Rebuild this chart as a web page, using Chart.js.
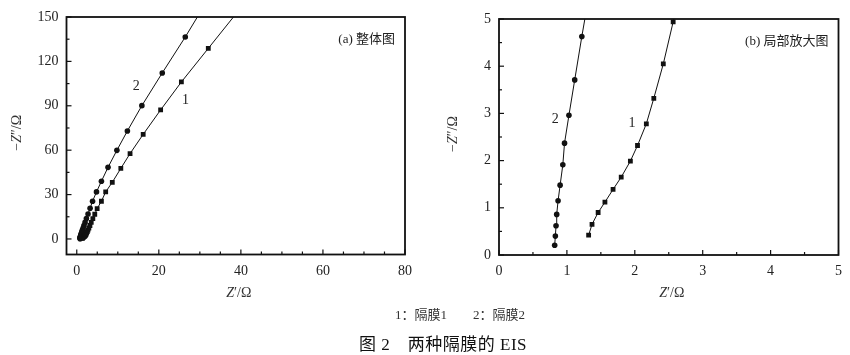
<!DOCTYPE html>
<html>
<head>
<meta charset="utf-8">
<script src="https://cdn.jsdelivr.net/npm/chart.js@4.4.0/dist/chart.umd.min.js"></script>
<style>
body { margin: 0; background: #fff; width: 850px; height: 355px; position: relative; overflow: hidden; }
#left { position: absolute; left: 0; top: 0; }
#right { position: absolute; left: 420px; top: 0; }
.note { position: absolute; font-family: "Liberation Serif", "Noto Sans CJK SC", serif; color: #333; white-space: pre; }
</style>
</head>
<body>
<canvas id="left" width="420" height="305"></canvas>
<canvas id="right" width="430" height="305"></canvas>
<div class="note" style="left:395px;top:304px;font-size:13px;">1：隔膜1　　2：隔膜2</div>
<div class="note" style="left:359px;top:330px;font-size:17px;letter-spacing:0.5px;color:#111;">图 2　两种隔膜的 EIS</div>
<script>
// separator 1 (squares): Z' and -Z''
var sep1Z   = [1.32, 1.37, 1.46, 1.56, 1.68, 1.80, 1.935, 2.04, 2.17, 2.28, 2.42, 2.565, 2.73, 2.95, 3.21, 3.53, 3.92, 4.39, 4.97, 6.01, 7.05, 8.66, 10.74, 12.99, 16.19, 20.44, 25.5, 32.06, 40.5];
var sep1Zpp = [0.42, 0.65, 0.90, 1.12, 1.39, 1.65, 1.99, 2.32, 2.78, 3.32, 4.05, 4.94, 6.0, 7.4, 9.1, 11.2, 13.7, 16.7, 20.5, 25.5, 31.8, 38.3, 47.7, 57.7, 70.7, 87.2, 106.1, 128.8, 158];
// separator 2 (circles)
var sep2Z   = [0.82, 0.83, 0.84, 0.85, 0.87, 0.90, 0.94, 0.965, 1.03, 1.115, 1.22, 1.36, 1.53, 1.75, 2.02, 2.35, 2.75, 3.25, 3.85, 4.81, 6.01, 7.62, 9.78, 12.34, 15.87, 20.84, 26.45, 33.0];
var sep2Zpp = [0.205, 0.40, 0.62, 0.86, 1.15, 1.48, 1.91, 2.37, 2.96, 3.71, 4.63, 5.8, 7.2, 9.0, 11.2, 13.8, 16.9, 20.7, 25.5, 31.8, 39.0, 48.4, 59.9, 73.0, 90.1, 112.2, 136.5, 166.5];

var leftXTicks = [0, 20, 40, 60, 80];
var leftYTicks = [0, 30, 60, 90, 120, 150];
var rightXTicks = [0, 1, 2, 3, 4, 5];
var rightYTicks = [0, 1, 2, 3, 4, 5];

function toPoints(xs, ys) {
	var pts = [];
	for (var i = 0; i < xs.length; i++) pts.push({x: xs[i], y: ys[i]});
	return pts;
}

var serif = '"Liberation Serif", "Noto Sans CJK SC", serif';

function drawTitle(ctx, parts, x, y, rotate) {
	ctx.save();
	ctx.translate(x, y);
	if (rotate) ctx.rotate(-Math.PI / 2);
	var total = 0;
	parts.forEach(function(p) { ctx.font = p[1]; total += ctx.measureText(p[0]).width; });
	var cx = -total / 2;
	ctx.textBaseline = 'middle';
	ctx.textAlign = 'left';
	parts.forEach(function(p) {
		ctx.font = p[1];
		ctx.fillText(p[0], cx, 0);
		cx += ctx.measureText(p[0]).width;
	});
	ctx.restore();
}

var framePlugin = {
	id: 'frame',
	afterDatasetsDraw: function(chart, args, o) {
		var ctx = chart.ctx, a = chart.chartArea, xs = chart.scales.x, ys = chart.scales.y;
		ctx.save();
		ctx.strokeStyle = '#111';
		ctx.lineWidth = 1.2;
		// inward ticks, bottom and left
		for (var i = 0; i * o.xMinor <= xs.max + 1e-9; i++) {
			var v = i * o.xMinor;
			var len = (i % o.xEvery === 0) ? 5 : 3;
			var px = xs.getPixelForValue(v);
			ctx.beginPath(); ctx.moveTo(px, a.bottom); ctx.lineTo(px, a.bottom - len); ctx.stroke();
		}
		for (var j = 0; j * o.yMinor <= ys.max + 1e-9; j++) {
			var w = j * o.yMinor;
			var len2 = (j % o.yEvery === 0) ? 5 : 3;
			var py = ys.getPixelForValue(w);
			ctx.beginPath(); ctx.moveTo(a.left, py); ctx.lineTo(a.left + len2, py); ctx.stroke();
		}
		ctx.lineWidth = 1.8;
		ctx.strokeRect(a.left, a.top, a.right - a.left, a.bottom - a.top);

		ctx.fillStyle = '#222';
		ctx.textBaseline = 'middle';
		// curve labels
		ctx.font = '14px ' + serif;
		ctx.textAlign = 'center';
		o.labels.forEach(function(l) {
			ctx.fillText(l.text, xs.getPixelForValue(l.x), ys.getPixelForValue(l.y));
		});
		// panel name
		ctx.font = '13px ' + serif;
		ctx.textAlign = 'right';
		ctx.fillText(o.panel, a.right - 10, a.top + 23);

		// axis titles
		ctx.fillStyle = '#333';
		var it = 'italic 14px ' + serif, up = '14px ' + serif;
		drawTitle(ctx, [['Z', it], ['\u2032/\u03A9', up]], (a.left + a.right) / 2 + 3, 293, false);
		drawTitle(ctx, [['\u2212', up], ['Z', it], ['\u2033/\u03A9', up]], o.yTitleX, (a.top + a.bottom) / 2 - 3, true);
		ctx.restore();
	}
};

function makeChart(id, cfg) {
	var ctx = document.getElementById(id).getContext('2d');
	return new Chart(ctx, {
		type: 'scatter',
		data: {
			datasets: [
				{
					label: '隔膜1',
					data: toPoints(sep1Z, sep1Zpp),
					showLine: true,
					borderColor: '#111',
					borderWidth: 1,
					backgroundColor: '#111',
					pointStyle: 'rect',
					pointRadius: cfg.rectR,
					pointBorderWidth: 0,
					tension: 0
				},
				{
					label: '隔膜2',
					data: toPoints(sep2Z, sep2Zpp),
					showLine: true,
					borderColor: '#111',
					borderWidth: 1,
					backgroundColor: '#111',
					pointStyle: 'circle',
					pointRadius: cfg.circR,
					pointBorderWidth: 0,
					tension: 0
				}
			]
		},
		options: {
			responsive: false,
			animation: false,
			devicePixelRatio: 1,
			layout: { padding: cfg.padding },
			plugins: {
				legend: { display: false },
				tooltip: { enabled: false },
				frame: cfg.frame
			},
			scales: {
				x: {
					type: 'linear',
					min: cfg.xMin, max: cfg.xMax,
					grid: { display: false, drawTicks: false },
					border: { display: false },
					afterBuildTicks: function(s) { s.ticks = cfg.xTicks.map(function(v) { return {value: v}; }); },
					afterFit: function(s) { s.height = cfg.xHeight; },
					ticks: { padding: 8, color: '#222', font: { family: serif, size: 14 }, maxRotation: 0 }
				},
				y: {
					type: 'linear',
					min: cfg.yMin, max: cfg.yMax,
					grid: { display: false, drawTicks: false },
					border: { display: false },
					afterBuildTicks: function(s) { s.ticks = cfg.yTicks.map(function(v) { return {value: v}; }); },
					afterFit: function(s) { s.width = cfg.yWidth; },
					ticks: { padding: 8, color: '#222', font: { family: serif, size: 14 } }
				}
			}
		},
		plugins: [framePlugin]
	});
}

makeChart('left', {
	xMin: -2.5, xMax: 80, yMin: -10.5, yMax: 150,
	xTicks: leftXTicks, yTicks: leftYTicks,
	padding: { left: 0, top: 17, right: 10.5, bottom: 0 },
	yWidth: 66.5, xHeight: 50.5,
	rectR: 3.4, circR: 2.8,
	frame: {
		xMinor: 5, xEvery: 4, yMinor: 15, yEvery: 2,
		yTitleX: 17,
		panel: '(a) 整体图',
		labels: [{text: '2', x: 14.5, y: 103}, {text: '1', x: 26.5, y: 93.4}]
	}
});

makeChart('right', {
	xMin: 0, xMax: 5, yMin: 0, yMax: 5,
	xTicks: rightXTicks, yTicks: rightYTicks,
	padding: { left: 0, top: 19, right: 7.5, bottom: 0 },
	yWidth: 79, xHeight: 50,
	rectR: 3.4, circR: 2.8,
	frame: {
		xMinor: 0.5, xEvery: 2, yMinor: 0.5, yEvery: 2,
		yTitleX: 33,
		panel: '(b) 局部放大图',
		labels: [{text: '2', x: 0.83, y: 2.88}, {text: '1', x: 1.96, y: 2.78}]
	}
});
</script>
</body>
</html>
